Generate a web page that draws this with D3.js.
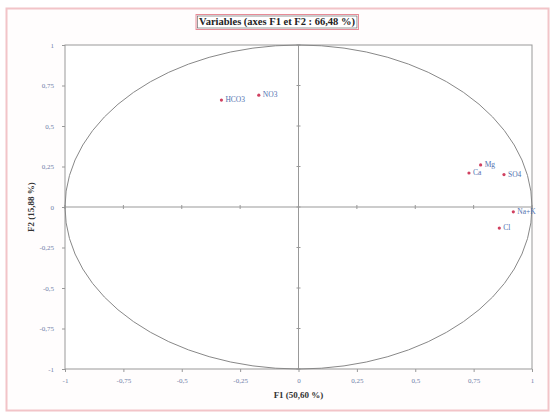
<!DOCTYPE html>
<html>
<head>
<meta charset="utf-8">
<script src="https://cdn.jsdelivr.net/npm/d3@7"></script>
<style>
  body { margin: 0; background: #fff; }
  svg text { font-family: "Liberation Serif", "DejaVu Serif", serif; }
</style>
</head>
<body>
<div id="chart"></div>
<script>
// Variables and their coordinates on F1 / F2
var variables = ["HCO3", "NO3", "Mg", "Ca", "SO4", "Na+K", "Cl"];
var f1Values = [-0.33, -0.17, 0.78, 0.73, 0.88, 0.92, 0.86];
var f2Values = [0.66, 0.69, 0.26, 0.21, 0.20, -0.03, -0.13];
var tickValues = [-1, -0.75, -0.5, -0.25, 0, 0.25, 0.5, 0.75, 1];

var width = 555;
var height = 417;

var svg = d3.select("#chart")
    .append("svg")
    .attr("width", width)
    .attr("height", height);

// outer frame
svg.append("rect")
    .attr("x", 6.5).attr("y", 8.5)
    .attr("width", 542).attr("height", 402)
    .style("fill", "#fffdfd")
    .style("stroke", "#f2c4c8")
    .style("stroke-width", 2);

var x = d3.scaleLinear().domain([-1, 1]).range([65, 532]);
var y = d3.scaleLinear().domain([-1, 1]).range([369, 45]);

var fmt = function(d) { return String(d).replace(".", ","); };

// plot area
svg.append("rect")
    .attr("x", x(-1)).attr("y", y(1))
    .attr("width", x(1) - x(-1)).attr("height", y(-1) - y(1))
    .style("fill", "#fff")
    .style("stroke", "#999")
    .style("stroke-width", 1);

// axes on the frame (labels only, small ticks)
var gx = svg.append("g")
    .attr("transform", "translate(0," + y(-1) + ")")
    .call(d3.axisBottom(x).tickValues(tickValues).tickFormat(fmt).tickSize(3).tickPadding(6));
var gy = svg.append("g")
    .attr("transform", "translate(" + x(-1) + ",0)")
    .call(d3.axisLeft(y).tickValues(tickValues).tickFormat(fmt).tickSize(3).tickPadding(8));
[gx, gy].forEach(function(g) {
    g.select(".domain").remove();
    g.selectAll("line").style("stroke", "#999");
    g.selectAll("text")
        .style("font-size", "7px")
        .style("fill", "#7080a8");
});

// zero lines with ticks
svg.append("line")
    .attr("x1", x(-1)).attr("x2", x(1))
    .attr("y1", y(0)).attr("y2", y(0))
    .style("stroke", "#999");
svg.append("line")
    .attr("x1", x(0)).attr("x2", x(0))
    .attr("y1", y(-1)).attr("y2", y(1))
    .style("stroke", "#999");
svg.append("g").selectAll("line.tx")
    .data(tickValues)
    .enter().append("line")
    .attr("x1", function(d) { return x(d); })
    .attr("x2", function(d) { return x(d); })
    .attr("y1", y(0) - 2).attr("y2", y(0) + 2)
    .style("stroke", "#999");
svg.append("g").selectAll("line.ty")
    .data(tickValues)
    .enter().append("line")
    .attr("y1", function(d) { return y(d); })
    .attr("y2", function(d) { return y(d); })
    .attr("x1", x(0) - 2).attr("x2", x(0) + 2)
    .style("stroke", "#999");

// correlation circle
svg.append("ellipse")
    .attr("cx", x(0)).attr("cy", y(0))
    .attr("rx", x(1) - x(0)).attr("ry", y(0) - y(1))
    .style("fill", "none")
    .style("stroke", "#888")
    .style("stroke-width", 1);

// points
var pts = svg.append("g").selectAll("g")
    .data(variables)
    .enter().append("g");
pts.append("circle")
    .attr("cx", function(d, i) { return x(f1Values[i]); })
    .attr("cy", function(d, i) { return y(f2Values[i]); })
    .attr("r", 1.6)
    .style("fill", "#d04060");
pts.append("text")
    .attr("x", function(d, i) { return x(f1Values[i]) + 4; })
    .attr("y", function(d, i) { return y(f2Values[i]) + 2; })
    .text(function(d) { return d; })
    .style("font-size", "7.5px")
    .style("fill", "#5070b0");

// title with its two frames
var titleBg = svg.append("rect");
var titleBox = svg.append("rect");
var title = svg.append("text")
    .attr("x", 277).attr("y", 25)
    .attr("text-anchor", "middle")
    .style("font-size", "10.5px")
    .style("font-weight", "bold")
    .style("fill", "#222")
    .text("Variables (axes F1 et F2 : 66,48 %)");
var bb = title.node().getBBox();
titleBg
    .attr("x", bb.x - 3).attr("y", bb.y - 1.5)
    .attr("width", bb.width + 6).attr("height", bb.height + 3)
    .style("fill", "#fff")
    .style("stroke", "#e88a96")
    .style("stroke-width", 1);
titleBox
    .attr("x", bb.x - 1.5).attr("y", bb.y)
    .attr("width", bb.width + 3).attr("height", bb.height)
    .style("fill", "none")
    .style("stroke", "#555")
    .style("stroke-width", 0.6);

// axis titles
svg.append("text")
    .attr("x", x(0)).attr("y", 398)
    .attr("text-anchor", "middle")
    .style("font-size", "9px")
    .style("font-weight", "bold")
    .style("fill", "#333")
    .text("F1 (50,60 %)");
svg.append("text")
    .attr("transform", "translate(34," + y(0) + ") rotate(-90)")
    .attr("text-anchor", "middle")
    .style("font-size", "9px")
    .style("font-weight", "bold")
    .style("fill", "#333")
    .text("F2 (15,88 %)");
</script>
</body>
</html>
